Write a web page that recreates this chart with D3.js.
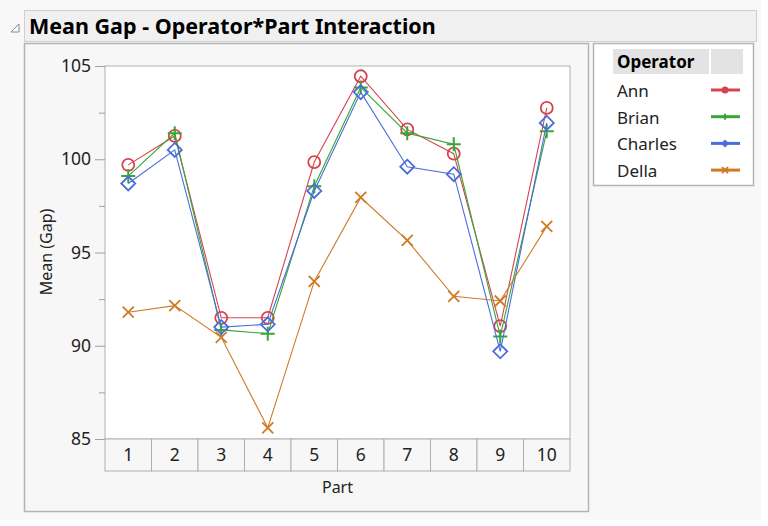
<!DOCTYPE html>
<html>
<head>
<meta charset="utf-8">
<script src="https://cdn.jsdelivr.net/npm/d3@7"></script>
<style>
  body { margin: 0; background: #fff; }
  svg { display: block; font-family: "Noto Sans", "Open Sans", sans-serif; }
</style>
</head>
<body>
<svg id="chart" width="768" height="526"></svg>
<script>
const parts = ["1", "2", "3", "4", "5", "6", "7", "8", "9", "10"];
const operators = ["Ann", "Brian", "Charles", "Della"];
const ann     = [99.7, 101.25, 91.5, 91.5, 99.85, 104.45, 101.6, 100.3, 91.05, 102.75];
const brian   = [99.1, 101.4, 90.85, 90.65, 98.55, 103.85, 101.4, 100.8, 90.5, 101.5];
const charles = [98.7, 100.5, 91.0, 91.15, 98.3, 103.6, 99.6, 99.2, 89.7, 101.95];
const della   = [91.8, 92.15, 90.45, 85.6, 93.45, 97.95, 95.65, 92.65, 92.4, 96.4];
const yTicks = [85, 90, 95, 100, 105];
const yMinor = [87.5, 92.5, 97.5, 102.5];

const seriesValues = [ann, brian, charles, della];
const colors = ["#d4444f", "#36a636", "#4a6ddb", "#cf7a25"];
const shapes = ["circle", "plus", "diamond", "cross"];

const svg = d3.select("#chart");

// page background
svg.append("rect").attr("x", 0).attr("y", 0).attr("width", 761).attr("height", 520).attr("fill", "#f8f8f8");

// title bar
svg.append("rect").attr("x", 24.5).attr("y", 10.5).attr("width", 732).attr("height", 31)
  .attr("fill", "#f0f0f0").attr("stroke", "#cfcfcf");
svg.append("path").attr("d", "M11,32 L19,24 L19,32 Z").attr("fill", "#fff").attr("stroke", "#888");
svg.append("text").attr("x", 29).attr("y", 34).attr("font-size", 21.5).attr("font-weight", "bold")
  .attr("fill", "#000").text("Mean Gap - Operator*Part Interaction");

// outer panel of the chart
svg.append("rect").attr("x", 24.5).attr("y", 43.5).attr("width", 564).attr("height", 468)
  .attr("fill", "#f7f7f7").attr("stroke", "#b4b4b4").attr("stroke-width", 1.5);

const margin = { left: 105, top: 66, right: 570, bottom: 439 };

const x = d3.scaleBand().domain(parts).range([margin.left, margin.right]);
const y = d3.scaleLinear().domain([85, 105]).range([margin.bottom, margin.top]);

// plot area
svg.append("rect").attr("x", margin.left).attr("y", margin.top)
  .attr("width", margin.right - margin.left).attr("height", margin.bottom - margin.top)
  .attr("fill", "#fff").attr("stroke", "#b0b0b0");

// y axis
const yAxis = d3.axisLeft(y).tickValues(yTicks).tickSize(10).tickPadding(4);
const yg = svg.append("g").attr("transform", `translate(${margin.left},0)`).call(yAxis);
yg.select(".domain").remove();
yg.selectAll("line").attr("stroke", "#a0a0a0");
yg.selectAll("text").attr("font-size", 17.5).attr("fill", "#222").attr("font-family", "Noto Sans, sans-serif");
const ym = svg.append("g").attr("transform", `translate(${margin.left},0)`)
  .call(d3.axisLeft(y).tickValues(yMinor).tickSize(6).tickFormat(""));
ym.select(".domain").remove();
ym.selectAll("line").attr("stroke", "#a0a0a0");

svg.append("text").attr("transform", "translate(52,252) rotate(-90)").attr("text-anchor", "middle")
  .attr("font-size", 16).attr("fill", "#222").text("Mean (Gap)");

// x axis cells
const cellG = svg.append("g");
cellG.selectAll("rect").data(parts).join("rect")
  .attr("x", d => x(d)).attr("y", margin.bottom)
  .attr("width", x.bandwidth()).attr("height", 32)
  .attr("fill", "#f7f7f7").attr("stroke", "#b0b0b0");
cellG.selectAll("text").data(parts).join("text")
  .attr("x", d => x(d) + x.bandwidth() / 2).attr("y", margin.bottom + 22)
  .attr("text-anchor", "middle").attr("font-size", 17.5).attr("fill", "#222").text(d => d);
svg.append("text").attr("x", (margin.left + margin.right) / 2).attr("y", 493)
  .attr("text-anchor", "middle").attr("font-size", 16).attr("fill", "#222").text("Part");

// symbols
function drawMarker(g, shape, color, cx, cy) {
  if (shape === "circle") {
    g.append("circle").attr("cx", cx).attr("cy", cy).attr("r", 6)
      .attr("fill", "none").attr("stroke", color).attr("stroke-width", 1.8);
  } else if (shape === "plus") {
    g.append("path").attr("d", `M${cx - 7},${cy}H${cx + 7}M${cx},${cy - 7}V${cy + 7}`)
      .attr("stroke", color).attr("stroke-width", 2);
  } else if (shape === "diamond") {
    g.append("path").attr("d", `M${cx},${cy - 7}L${cx + 7},${cy}L${cx},${cy + 7}L${cx - 7},${cy}Z`)
      .attr("fill", "none").attr("stroke", color).attr("stroke-width", 1.8);
  } else {
    g.append("path").attr("d", `M${cx - 5.5},${cy - 5.5}L${cx + 5.5},${cy + 5.5}M${cx - 5.5},${cy + 5.5}L${cx + 5.5},${cy - 5.5}`)
      .attr("stroke", color).attr("stroke-width", 1.8);
  }
}

const line = d3.line().x((d, i) => x(parts[i]) + x.bandwidth() / 2).y(d => y(d));

seriesValues.forEach((vals, s) => {
  const g = svg.append("g");
  g.append("path").datum(vals).attr("d", line)
    .attr("fill", "none").attr("stroke", colors[s]).attr("stroke-width", 1.1);
  vals.forEach((v, i) => drawMarker(g, shapes[s], colors[s], x(parts[i]) + x.bandwidth() / 2, y(v)));
});

// legend
const lg = svg.append("g");
lg.append("rect").attr("x", 593.5).attr("y", 43.5).attr("width", 160).attr("height", 142)
  .attr("fill", "#fff").attr("stroke", "#b4b4b4").attr("stroke-width", 1.5);
lg.append("rect").attr("x", 613).attr("y", 49).attr("width", 96).attr("height", 25).attr("fill", "#e3e3e3");
lg.append("rect").attr("x", 711).attr("y", 49).attr("width", 32).attr("height", 25).attr("fill", "#e3e3e3");
lg.append("text").attr("x", 617).attr("y", 68).attr("font-size", 17).attr("font-weight", "bold")
  .attr("fill", "#000").text("Operator");
operators.forEach((name, s) => {
  const cy = 91 + s * 26.7;
  lg.append("text").attr("x", 617).attr("y", cy + 6).attr("font-size", 17).attr("fill", "#222").text(name);
  lg.append("line").attr("x1", 711).attr("x2", 740).attr("y1", cy - 1).attr("y2", cy - 1)
    .attr("stroke", colors[s]).attr("stroke-width", 3);
  const mg = lg.append("g");
  if (shapes[s] === "circle") {
    mg.append("circle").attr("cx", 725).attr("cy", cy - 1).attr("r", 3.5).attr("fill", colors[s]);
  } else if (shapes[s] === "plus") {
    mg.append("path").attr("d", `M725,${cy - 4}V${cy + 2}`).attr("stroke", colors[s]).attr("stroke-width", 2);
  } else if (shapes[s] === "diamond") {
    mg.append("path").attr("d", `M725,${cy - 5}L729,${cy - 1}L725,${cy + 3}L721,${cy - 1}Z`).attr("fill", colors[s]);
  } else {
    mg.append("path").attr("d", `M722,${cy - 4}L728,${cy + 2}M722,${cy + 2}L728,${cy - 4}`)
      .attr("stroke", colors[s]).attr("stroke-width", 2);
  }
});
</script>
</body>
</html>
